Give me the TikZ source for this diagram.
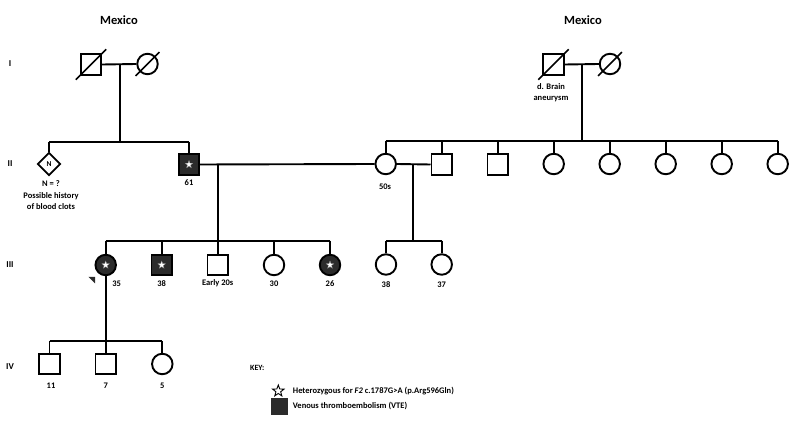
\documentclass[tikz,border=0pt]{standalone}
\usepackage{fontspec}
\setmainfont{Carlito}
\usetikzlibrary{shapes.geometric}
\definecolor{vte}{HTML}{2B2B2B}
\begin{document}
\begin{tikzpicture}[x=1pt,y=-1pt,
  rel/.style={line width=1.9pt},
  male/.style={draw, rectangle, minimum size=20.5pt, inner sep=0pt, line width=1.9pt, fill=white},
  female/.style={draw, circle, minimum size=20.5pt, inner sep=0pt, line width=1.9pt, fill=white},
  unknownsex/.style={draw, diamond, aspect=1, minimum width=23pt, minimum height=23pt, inner sep=0pt, line width=1.9pt, fill=white, font=\bfseries\fontsize{7.5}{8}\selectfont},
  affected/.style={fill=vte},
  carrier/.style={star, star points=5, star point ratio=2.4, minimum size=8pt, inner sep=0pt, draw=vte!60, line width=0.3pt, fill=white},
  lbl/.style={font=\bfseries\fontsize{8.5}{10}\selectfont, inner sep=0pt},
  genlbl/.style={font=\bfseries\fontsize{9}{10}\selectfont, inner sep=0pt},
  origin/.style={font=\bfseries\fontsize{12.5}{14}\selectfont, inner sep=0pt},
  deceased/.style={line width=1.6pt}
]
\useasboundingbox (0,0) rectangle (800,427);

% generation labels
\node[genlbl] (gI)   at (10,64)  {I};
\node[genlbl] (gII)  at (10,164) {II};
\node[genlbl] (gIII) at (10,265) {III};
\node[genlbl] (gIV)  at (10,367) {IV};

% places of origin
\node[origin] (mexL) at (119,20) {Mexico};
\node[origin] (mexR) at (583,20) {Mexico};

% ---------- generation I ----------
\node[male]   (I1) at (91,64.5)  {};
\node[female] (I2) at (147.5,64) {};
\node[male]   (I3) at (553.5,64.5) {};
\node[female] (I4) at (610,64)   {};
\foreach \n in {I1,I2,I3,I4}
  \draw[deceased] ([shift={(-4,4)}]\n.south west) -- ([shift={(4,-4)}]\n.north east);
\node[lbl, align=center] (I3lbl) at (551,92.5) {d. Brain\\[0.6pt]aneurysm};

% ---------- generation II ----------
\node[unknownsex] (II1) at (49,164) {N};
\node[male, affected] (II2) at (189,164.5) {};
\node[carrier] (II2s) at (II2.center) {};
\node[female] (II3) at (385.7,164) {};
\node[male]   (II4) at (441.7,164.5) {};
\node[male]   (II5) at (497.7,164.5) {};
\node[female] (II6) at (553.7,164) {};
\node[female] (II7) at (609.7,164) {};
\node[female] (II8) at (665.7,164) {};
\node[female] (II9) at (721.7,164) {};
\node[female] (II10) at (777.7,164) {};

\node[lbl, align=center] (II1lbl) at (51,194.8)
  {N = ?\\[1.8pt]Possible history\\[1.2pt]of blood clots};
\node[lbl] (II2lbl) at (189,183) {61};
\node[lbl] (II3lbl) at (385,187) {50s};

% ---------- generation III ----------
\node[female, affected] (III1) at (105.7,265) {};
\node[carrier] (III1s) at (III1.center) {};
\node[male, affected] (III2) at (161.7,265) {};
\node[carrier] (III2s) at (III2.center) {};
\node[male]   (III3) at (217.7,265) {};
\node[female] (III4) at (274,265) {};
\node[female, affected] (III5) at (330,265) {};
\node[carrier] (III5s) at (III5.center) {};
\node[female] (III6) at (386,264.5) {};
\node[female] (III7) at (441.7,264.5) {};

\node[lbl] (III1lbl) at (116.7,283.3) {35};
\node[lbl] (III2lbl) at (161.7,283.3) {38};
\node[lbl] (III3lbl) at (217.7,283.3) {Early 20s};
\node[lbl] (III4lbl) at (274,283.3) {30};
\node[lbl] (III5lbl) at (330,283.3) {26};
\node[lbl] (III6lbl) at (386,285) {38};
\node[lbl] (III7lbl) at (441.7,285) {37};

% proband marker
\fill[vte] (88.3,276.8) coordinate (pa) -- (95,276.8) coordinate (pb) -- (95,283.5) coordinate (pc) -- cycle;

% ---------- generation IV ----------
\node[male]   (IV1) at (49.5,364) {};
\node[male]   (IV2) at (105.7,364) {};
\node[female] (IV3) at (162.3,364) {};
\node[lbl] (IV1lbl) at (51,385.7) {11};
\node[lbl] (IV2lbl) at (105.7,385.7) {7};
\node[lbl] (IV3lbl) at (162.3,385.7) {5};

% ---------- relationship and sibship lines ----------
% left couple, generation I
\draw[rel] (I1.east) -- (I2.west);
\coordinate (mI12) at (120,64);
\coordinate (sII) at (120,141.7);
\draw[rel] (mI12) -- (sII);
\draw[rel] (II1.north |- sII) -- (II2.north |- sII);
\draw[rel] (II1.north |- sII) -- (II1.north);
\draw[rel] (II2.north |- sII) -- (II2.north);

% right couple, generation I
\draw[rel] (I3.east) -- (I4.west);
\coordinate (mI34) at (582,64);
\coordinate (sIIr) at (582,141);
\draw[rel] (mI34) -- (sIIr);
\draw[rel] (II3.north |- sIIr) -- (II10.north |- sIIr);
\foreach \n in {II3,II4,II5,II6,II7,II8,II9,II10}
  \draw[rel] (\n.north |- sIIr) -- (\n.north);

% couple II2 -- II3
\draw[rel] (II2.east) -- (II3.west);
\coordinate (mII23) at (218,164);
\coordinate (sIII) at (218,240.7);
\draw[rel] (mII23) -- (sIII);
\draw[rel] (III1.north |- sIII) -- (III5.north |- sIII);
\foreach \n in {III1,III2,III3,III4,III5}
  \draw[rel] (\n.north |- sIII) -- (\n.north);

% couple II3 -- II4
\draw[rel] (II3.east) -- (II4.west);
\coordinate (mII34) at (413,164);
\coordinate (sIIIr) at (413,240.7);
\draw[rel] (mII34) -- (sIIIr);
\draw[rel] (III6.north |- sIIIr) -- (III7.north |- sIIIr);
\foreach \n in {III6,III7}
  \draw[rel] (\n.north |- sIIIr) -- (\n.north);

% children of III1
\coordinate (sIV) at (105.7,341);
\draw[rel] (III1.south) -- (sIV);
\draw[rel] (IV1.north |- sIV) -- (IV3.north |- sIV);
\foreach \n in {IV1,IV2,IV3}
  \draw[rel] (\n.north |- sIV) -- (\n.north);

% ---------- key ----------
\node[lbl, font=\bfseries\fontsize{8}{9}\selectfont, anchor=west] (key) at (250,367.7) {KEY:};
\node[star, star points=5, star point ratio=2.4, minimum size=12pt, inner sep=0pt, draw=black, line width=0.9pt] (keystar) at (278.3,391) {};
\node[lbl, anchor=west] (keystartxt) at (292.7,391) {Heterozygous for \textit{F2} c.1787G>A (p.Arg596Gln)};
\node[rectangle, fill=vte, minimum size=17pt, inner sep=0pt] (keybox) at (279,406) {};
\node[lbl, anchor=west] (keyboxtxt) at (292.7,406) {Venous thromboembolism (VTE)};
\end{tikzpicture}
\end{document}
